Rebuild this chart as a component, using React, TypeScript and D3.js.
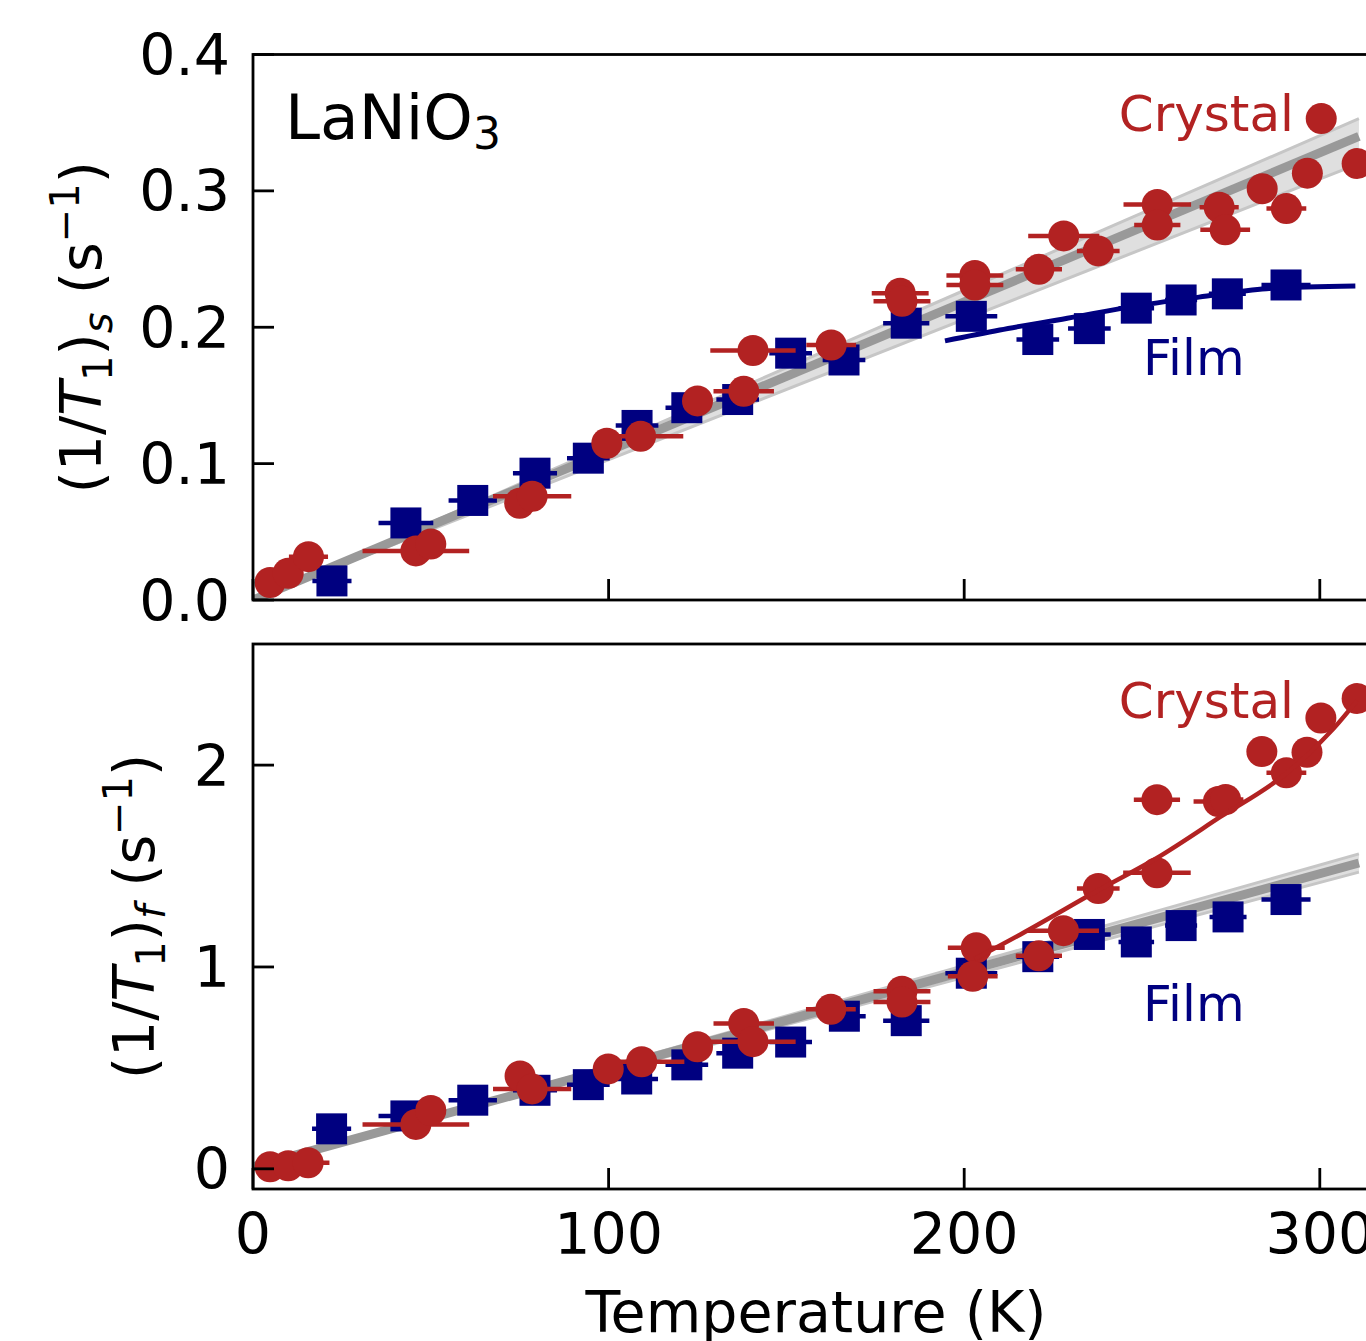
import React from "react";
import * as d3 from "d3";

// ---------- data ----------
// Top panel: (1/T1)_s
const crystalTempS = [4.8, 9.9, 15.6, 45.8, 50, 75, 78.5, 99.5, 109, 125, 138, 140.6, 162.6, 182, 182.5, 203, 203, 221, 228, 237.7, 254.3, 254.3, 271.7, 273.4, 283.8, 290.6, 296.5, 300.4, 310.5];
const crystalRateS = [0.0128, 0.0196, 0.0318, 0.036, 0.041, 0.071, 0.076, 0.115, 0.12, 0.146, 0.153, 0.183, 0.187, 0.225, 0.219, 0.238, 0.231, 0.2425, 0.267, 0.256, 0.29, 0.275, 0.288, 0.2715, 0.3016, 0.287, 0.313, 0.353, 0.32];
const crystalXerrS = [0, 0, 5.5, 15, 0, 0, 11, 0, 12, 0, 8.5, 12, 7, 8, 8, 8, 8, 6.5, 10, 6, 9.5, 6.5, 5.5, 7, 0, 5.6, 0, 0, 0];

const filmTempS = [22.2, 43, 61.8, 79.3, 94.3, 108, 122, 136.3, 151.2, 166.2, 183.7, 202, 220.7, 235.2, 248.4, 261, 274, 290.5];
const filmRateS = [0.014, 0.0565, 0.073, 0.093, 0.104, 0.128, 0.141, 0.147, 0.181, 0.176, 0.203, 0.208, 0.191, 0.199, 0.214, 0.22, 0.2245, 0.231];
const filmXerrS = [5.5, 7.7, 6.8, 6.2, 6, 6, 6, 6, 6, 6, 6.5, 7.3, 6, 6, 5, 4.5, 5.2, 6.9];

const filmFitTempS = [194.6, 210, 229, 247.5, 266, 285, 310];
const filmFitRateS = [0.19, 0.198, 0.2066, 0.2153, 0.2221, 0.2283, 0.2302];

const bandTempS = [0, 311];
const bandMidS = [0, 0.34];
const bandLoS = [0, 0.32];
const bandHiS = [0, 0.353];

// Bottom panel: (1/T1)_f
const crystalTempF = [4.8, 9.9, 15.5, 45.8, 50, 75.1, 78.5, 99.9, 109.3, 125, 138, 140.6, 162.5, 182.5, 182.5, 203.4, 202.4, 221, 227.9, 237.7, 254.2, 254.2, 271.5, 273.5, 283.7, 290.6, 296.4, 300.3, 310.5];
const crystalRateF = [0.01, 0.015, 0.03, 0.22, 0.289, 0.46, 0.396, 0.495, 0.53, 0.605, 0.72, 0.63, 0.79, 0.88, 0.826, 1.095, 0.954, 1.055, 1.18, 1.389, 1.467, 1.829, 1.82, 1.83, 2.067, 1.962, 2.064, 2.233, 2.33];
const crystalXerrF = [0, 0, 6, 15, 0, 0, 11, 0, 12, 0, 8.5, 12, 7, 8, 8, 8, 7, 6.5, 10, 6, 9.5, 6.5, 7, 5, 0, 5.6, 0, 0, 0];

const filmTempF = [22.1, 43, 61.8, 79.3, 94.3, 107.9, 122, 136.3, 151.2, 166.3, 183.7, 202, 220.7, 235.2, 248.4, 261, 274.2, 290.5];
const filmRateF = [0.198, 0.262, 0.34, 0.389, 0.417, 0.445, 0.515, 0.573, 0.628, 0.756, 0.734, 0.969, 1.051, 1.161, 1.124, 1.205, 1.248, 1.334];
const filmXerrF = [5.5, 7.7, 6.8, 6.2, 6, 6, 6, 6, 6, 6, 6.5, 7.3, 6, 6, 5, 4.5, 5.2, 6.9];

const crystalFitTempF = [203, 215.7, 238.3, 254.2, 272, 290.8, 303.8, 310.5];
const crystalFitRateF = [1.04, 1.16, 1.386, 1.54, 1.743, 1.962, 2.18, 2.32];

const bandTempF = [0, 311];
const bandMidF = [0.01, 1.515];
const bandLoF = [0.01, 1.47];
const bandHiF = [0.01, 1.56];

const xTicks = [0, 100, 200, 300];
const yTicksS = [0, 0.1, 0.2, 0.3, 0.4];
const yTicksF = [0, 1, 2];

// ---------- style ----------
const RED = "#b22222";
const BLUE = "#000080";
const FONT = "DejaVu Sans";
const W = 1366;
const H = 1341;
const LEFT = 253;
const X_RIGHT = 1392;
const TICK_FS = 57;
const ANNOT_FS = 50;
const R = 15.5;
const SQ = 31;

const xScale = d3.scaleLinear().domain([0, 320]).range([LEFT, LEFT + 320 * 3.556]);

type PanelProps = {
  id: string;
  top: number;
  bottom: number;
  yDomain: [number, number];
  yTicks: number[];
  fmt: (v: number) => string;
  band: { t: number[]; mid: number[]; lo: number[]; hi: number[] };
  film: { t: number[]; v: number[]; e: number[] };
  crystal: { t: number[]; v: number[]; e: number[] };
  fit: { t: number[]; v: number[]; color: string };
  showXLabels: boolean;
  labelX: number;
  subLetter: string;
  crystalY: number;
  filmY: number;
};

function Panel(p: PanelProps) {
  const y = d3.scaleLinear().domain(p.yDomain).range([p.bottom, p.top]);
  const bandArea = d3
    .area<number>()
    .x((_, i) => xScale(p.band.t[i]))
    .y0((_, i) => y(p.band.lo[i]))
    .y1((_, i) => y(p.band.hi[i]));
  const lineGen = d3
    .line<[number, number]>()
    .x((d) => xScale(d[0]))
    .y((d) => y(d[1]));
  const smooth = d3
    .line<[number, number]>()
    .x((d) => xScale(d[0]))
    .y((d) => y(d[1]))
    .curve(d3.curveMonotoneX);
  const mid: [number, number][] = p.band.t.map((t, i) => [t, p.band.mid[i]]);
  const lo: [number, number][] = p.band.t.map((t, i) => [t, p.band.lo[i]]);
  const hi: [number, number][] = p.band.t.map((t, i) => [t, p.band.hi[i]]);
  const fitPts: [number, number][] = p.fit.t.map((t, i) => [t, p.fit.v[i]]);
  const clipId = `clip-${p.id}`;
  const midY = (p.top + p.bottom) / 2;
  return (
    <g>
      <defs>
        <clipPath id={clipId}>
          <rect x={LEFT} y={p.top} width={X_RIGHT - LEFT} height={p.bottom - p.top} />
        </clipPath>
      </defs>
      <g clipPath={`url(#${clipId})`}>
        <path d={bandArea(p.band.t) || ""} fill="#d9d9d9" opacity={0.85} />
        <path d={lineGen(lo) || ""} stroke="#c6c6c6" strokeWidth={3} fill="none" />
        <path d={lineGen(hi) || ""} stroke="#c6c6c6" strokeWidth={3} fill="none" />
        <path d={lineGen(mid) || ""} stroke="#999999" strokeWidth={9} fill="none" />
        {p.fit.color === BLUE && (
          <path d={smooth(fitPts) || ""} stroke={BLUE} strokeWidth={5} fill="none" />
        )}
        {p.film.t.map((t, i) =>
          p.film.e[i] > 0 ? (
            <line key={`fe${i}`} x1={xScale(t - p.film.e[i])} x2={xScale(t + p.film.e[i])} y1={y(p.film.v[i])} y2={y(p.film.v[i])} stroke={BLUE} strokeWidth={4.5} />
          ) : null
        )}
        {p.film.t.map((t, i) => (
          <rect key={`fs${i}`} x={xScale(t) - SQ / 2} y={y(p.film.v[i]) - SQ / 2} width={SQ} height={SQ} fill={BLUE} />
        ))}
        {p.crystal.t.map((t, i) =>
          p.crystal.e[i] > 0 ? (
            <line key={`ce${i}`} x1={xScale(t - p.crystal.e[i])} x2={xScale(t + p.crystal.e[i])} y1={y(p.crystal.v[i])} y2={y(p.crystal.v[i])} stroke={RED} strokeWidth={4.5} />
          ) : null
        )}
        {p.crystal.t.map((t, i) => (
          <circle key={`cc${i}`} cx={xScale(t)} cy={y(p.crystal.v[i])} r={R} fill={RED} />
        ))}
        {p.fit.color === RED && (
          <path d={smooth(fitPts) || ""} stroke={RED} strokeWidth={4.5} fill="none" />
        )}
      </g>
      {/* spines */}
      <rect x={LEFT} y={p.top} width={X_RIGHT - LEFT} height={p.bottom - p.top} fill="none" stroke="#000" strokeWidth={2.8} />
      {/* y ticks */}
      {p.yTicks.map((v) => (
        <g key={`yt${v}`}>
          <line x1={LEFT} x2={LEFT + 21} y1={y(v)} y2={y(v)} stroke="#000" strokeWidth={2.8} />
          <text x={230} y={y(v)} dy="0.36em" textAnchor="end" fontFamily={FONT} fontSize={TICK_FS} fill="#000">
            {p.fmt(v)}
          </text>
        </g>
      ))}
      {/* x ticks */}
      {xTicks.map((t) => (
        <g key={`xt${t}`}>
          <line x1={xScale(t)} x2={xScale(t)} y1={p.bottom} y2={p.bottom - 21} stroke="#000" strokeWidth={2.8} />
          {p.showXLabels && (
            <text x={xScale(t)} y={1254} textAnchor="middle" fontFamily={FONT} fontSize={TICK_FS} fill="#000">
              {String(t)}
            </text>
          )}
        </g>
      ))}
      {/* y label */}
      <text
        transform={`translate(${p.labelX},${midY}) rotate(-90)`}
        textAnchor="middle"
        dy="0.36em"
        fontFamily={FONT}
        fontSize={TICK_FS}
        fill="#000"
      >
        <tspan>(1/</tspan>
        <tspan fontStyle="italic">T</tspan>
        <tspan fontSize={40} dy={11}>1</tspan>
        <tspan dy={-11}>)</tspan>
        <tspan fontSize={40} fontStyle="italic" dy={11}>{p.subLetter}</tspan>
        <tspan dy={-11}>{"\u00a0(s"}</tspan>
        <tspan fontSize={40} dy={-22}>{"\u22121"}</tspan>
        <tspan dy={22}>)</tspan>
      </text>
      {/* annotations */}
      <text x={1294} y={p.crystalY} textAnchor="end" fontFamily={FONT} fontSize={ANNOT_FS} fill={RED}>
        Crystal
      </text>
      <text x={1143} y={p.filmY} fontFamily={FONT} fontSize={ANNOT_FS} fill={BLUE}>
        Film
      </text>
    </g>
  );
}

export default function App() {
  return (
    <svg
      width={W}
      height={H}
      viewBox={`0 0 ${W} ${H}`}
      style={{ position: "absolute", left: 0, top: 0, background: "#fff" }}
    >
      <rect x={0} y={0} width={W} height={H} fill="#fff" />
      <Panel
        id="s"
        top={54.5}
        bottom={600}
        yDomain={[0, 0.4]}
        yTicks={yTicksS}
        fmt={(v) => v.toFixed(1)}
        band={{ t: bandTempS, mid: bandMidS, lo: bandLoS, hi: bandHiS }}
        film={{ t: filmTempS, v: filmRateS, e: filmXerrS }}
        crystal={{ t: crystalTempS, v: crystalRateS, e: crystalXerrS }}
        fit={{ t: filmFitTempS, v: filmFitRateS, color: BLUE }}
        showXLabels={false}
        labelX={80}
        subLetter="s"
        crystalY={131}
        filmY={375}
      />
      <Panel
        id="f"
        top={644}
        bottom={1189}
        yDomain={[-0.1, 2.6]}
        yTicks={yTicksF}
        fmt={(v) => String(v)}
        band={{ t: bandTempF, mid: bandMidF, lo: bandLoF, hi: bandHiF }}
        film={{ t: filmTempF, v: filmRateF, e: filmXerrF }}
        crystal={{ t: crystalTempF, v: crystalRateF, e: crystalXerrF }}
        fit={{ t: crystalFitTempF, v: crystalFitRateF, color: RED }}
        showXLabels={true}
        labelX={133}
        subLetter="f"
        crystalY={718}
        filmY={1021}
      />
      <text x={285} y={139} fontFamily={FONT} fontSize={63} fill="#000">
        LaNiO
        <tspan fontSize={44} dy={10}>3</tspan>
      </text>
      <text x={816} y={1332} textAnchor="middle" fontFamily={FONT} fontSize={TICK_FS} fill="#000">
        Temperature (K)
      </text>
    </svg>
  );
}
